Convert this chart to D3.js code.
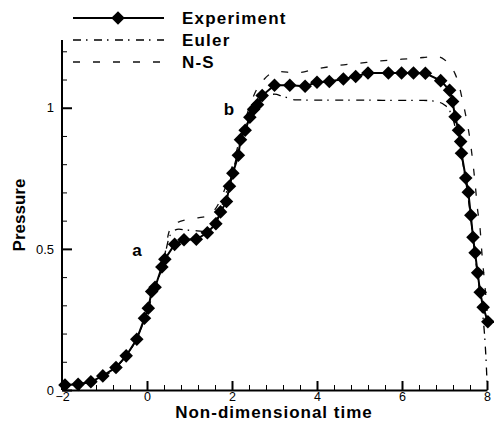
<!DOCTYPE html>
<html>
<head>
<meta charset="utf-8">
<script src="https://cdn.jsdelivr.net/npm/d3@7"></script>
<style>
  html, body { margin: 0; padding: 0; background: #fff; }
  svg { display: block; }
  text { font-family: "Liberation Sans", Arial, sans-serif; fill: #000; }
</style>
</head>
<body>
<svg id="chart" width="494" height="425"></svg>
<script>
// Measured pressure history
const expTime = [-1.93, -1.62, -1.32, -1.04, -0.73, -0.49, -0.24, -0.06, 0.03, 0.11, 0.19, 0.35, 0.42, 0.65, 0.87, 1.16, 1.42, 1.62, 1.73, 1.87, 1.94, 2.02, 2.15, 2.20, 2.31, 2.42, 2.51, 2.60, 2.71, 3.00, 3.36, 3.72, 4.00, 4.29, 4.62, 4.91, 5.20, 5.68, 5.99, 6.27, 6.55, 6.91, 7.12, 7.19, 7.25, 7.33, 7.38, 7.40, 7.50, 7.56, 7.62, 7.67, 7.72, 7.78, 7.84, 7.91, 8.02];
const expPressure = [0.018, 0.020, 0.029, 0.050, 0.080, 0.121, 0.180, 0.254, 0.290, 0.349, 0.364, 0.436, 0.463, 0.516, 0.532, 0.534, 0.557, 0.589, 0.631, 0.668, 0.722, 0.768, 0.832, 0.887, 0.920, 0.966, 0.995, 1.011, 1.043, 1.080, 1.080, 1.076, 1.090, 1.093, 1.102, 1.111, 1.123, 1.123, 1.123, 1.123, 1.122, 1.096, 1.062, 1.022, 0.968, 0.920, 0.880, 0.839, 0.751, 0.701, 0.619, 0.541, 0.486, 0.415, 0.346, 0.293, 0.242];

// Inviscid (Euler) computation
const eulerTime = [-2.0, -1.6, -1.2, -0.8, -0.5, -0.25, 0.0, 0.2, 0.4, 0.5, 0.6, 0.75, 0.9, 1.1, 1.3, 1.5, 1.65, 1.8, 1.95, 2.1, 2.25, 2.4, 2.55, 2.7, 2.85, 3.0, 3.2, 3.5, 4.0, 5.0, 6.0, 6.5, 6.8, 7.0, 7.13, 7.2, 7.3, 7.4, 7.5, 7.6, 7.7, 7.8, 7.88, 7.94, 7.98, 8.0];
const eulerPressure = [0.012, 0.02, 0.035, 0.07, 0.12, 0.18, 0.275, 0.37, 0.46, 0.53, 0.56, 0.57, 0.567, 0.565, 0.562, 0.575, 0.61, 0.67, 0.74, 0.82, 0.9, 0.96, 1.0, 1.03, 1.045, 1.048, 1.04, 1.028, 1.027, 1.027, 1.026, 1.026, 1.022, 1.01, 0.987, 0.96, 0.9, 0.83, 0.74, 0.63, 0.5, 0.38, 0.29, 0.2, 0.1, 0.03];

// Viscous (Navier-Stokes) computation
const nsTime = [-2.0, -1.6, -1.2, -0.8, -0.5, -0.25, 0.0, 0.2, 0.4, 0.5, 0.6, 0.8, 1.0, 1.2, 1.4, 1.55, 1.7, 1.85, 2.0, 2.15, 2.3, 2.45, 2.6, 2.75, 2.9, 3.1, 3.5, 4.0, 4.5, 5.0, 5.5, 6.0, 6.5, 6.8, 7.0, 7.15, 7.25, 7.33, 7.43, 7.52, 7.60, 7.66, 7.72, 7.77, 7.84, 7.88, 7.93, 7.98, 8.0];
const nsPressure = [0.012, 0.02, 0.035, 0.07, 0.12, 0.18, 0.275, 0.37, 0.46, 0.55, 0.585, 0.598, 0.605, 0.61, 0.615, 0.63, 0.665, 0.72, 0.79, 0.87, 0.95, 1.02, 1.07, 1.1, 1.12, 1.128, 1.124, 1.138, 1.15, 1.158, 1.166, 1.172, 1.178, 1.182, 1.17, 1.148, 1.12, 1.087, 1.022, 0.957, 0.887, 0.816, 0.733, 0.65, 0.567, 0.485, 0.402, 0.319, 0.28];

const xMajorTicks = [-2, 0, 2, 4, 6, 8];
const yMajorTicks = [0, 0.5, 1];
const seriesNames = ["Experiment", "Euler", "N-S"];
const pointLabels = ["a", "b"];

const svg = d3.select("#chart");
const x = d3.scaleLinear().domain([-2, 8]).range([62, 487]);
const y = d3.scaleLinear().domain([0, 1.24]).range([390, 40]);

const zip = (xs, ys) => xs.map((v, i) => [v, ys[i]]);
const expData = zip(expTime, expPressure);
const eulerData = zip(eulerTime, eulerPressure);
const nsData = zip(nsTime, nsPressure);

const eulerDash = "8,5,1.5,6.5";
const nsDash = "7,13";

// Axes: ticks point into the plot
const xMinor = d3.range(-2, 8.001, 0.4).filter(v => !xMajorTicks.some(t => Math.abs(t - v) < 1e-6));
const yMinor = d3.range(0, 1.2001, 0.1).filter(v => !yMajorTicks.some(t => Math.abs(t - v) < 1e-6));

const xAxis = svg.append("g").attr("transform", `translate(0,${y(0)})`)
  .call(d3.axisBottom(x).tickValues(xMajorTicks).tickSizeInner(-9).tickSizeOuter(0).tickPadding(2).tickFormat(d3.format("d")));
xAxis.select(".domain").attr("stroke-width", 2);
xAxis.selectAll(".tick line").attr("stroke-width", 2);
xAxis.selectAll(".tick text").attr("font-size", 12.5).attr("font-family", "Liberation Sans, Arial, sans-serif");
const xMinorAxis = svg.append("g").attr("transform", `translate(0,${y(0)})`)
  .call(d3.axisBottom(x).tickValues(xMinor).tickSize(-5).tickFormat(""));
xMinorAxis.select(".domain").remove();

const yAxis = svg.append("g").attr("transform", `translate(${x(-2)},0)`)
  .call(d3.axisLeft(y).tickValues(yMajorTicks).tickSizeInner(-10).tickSizeOuter(0).tickPadding(8).tickFormat(d => d));
yAxis.select(".domain").attr("stroke-width", 2).attr("d", `M0,${y(1.24)}V${y(0)}`);
yAxis.selectAll(".tick line").attr("stroke-width", 2);
yAxis.selectAll(".tick text").attr("font-size", 13).attr("font-family", "Liberation Sans, Arial, sans-serif");
const yMinorAxis = svg.append("g").attr("transform", `translate(${x(-2)},0)`)
  .call(d3.axisLeft(y).tickValues(yMinor).tickSize(-5).tickFormat(""));
yMinorAxis.select(".domain").remove();

// Axis titles
svg.append("text").attr("x", 274).attr("y", 418).attr("text-anchor", "middle")
  .attr("font-size", 17).attr("font-weight", "bold").attr("letter-spacing", 1)
  .text("Non-dimensional time");
svg.append("text").attr("transform", "translate(25,215) rotate(-90)").attr("text-anchor", "middle")
  .attr("font-size", 17).attr("font-weight", "bold")
  .text("Pressure");

// Curves
const smooth = d3.line().x(d => x(d[0])).y(d => y(d[1])).curve(d3.curveMonotoneX);
const straight = d3.line().x(d => x(d[0])).y(d => y(d[1]));

svg.append("path").datum(nsData).attr("d", smooth).attr("fill", "none")
  .attr("stroke", "#111").attr("stroke-width", 1.3).attr("stroke-dasharray", nsDash);
svg.append("path").datum(eulerData).attr("d", smooth).attr("fill", "none")
  .attr("stroke", "#000").attr("stroke-width", 1.3).attr("stroke-dasharray", eulerDash);
svg.append("path").datum(expData).attr("d", straight).attr("fill", "none")
  .attr("stroke", "#000").attr("stroke-width", 2);

const diamond = d3.symbol().type(d3.symbolSquare).size(92);
svg.append("g").selectAll("path").data(expData).join("path")
  .attr("d", diamond)
  .attr("transform", d => `translate(${x(d[0])},${y(d[1])}) rotate(45)`)
  .attr("fill", "#000");

// Point labels
svg.append("text").attr("x", 137).attr("y", 256).attr("text-anchor", "middle")
  .attr("font-size", 17).attr("font-weight", "bold").text(pointLabels[0]);
svg.append("text").attr("x", 229).attr("y", 115).attr("text-anchor", "middle")
  .attr("font-size", 17).attr("font-weight", "bold").text(pointLabels[1]);

// Legend
const legend = svg.append("g");
const rows = [18, 40, 62];
const styles = [
  { dash: null, width: 2, color: "#000" },
  { dash: eulerDash, width: 1.3, color: "#000" },
  { dash: nsDash, width: 1.3, color: "#111" }
];
seriesNames.forEach((name, i) => {
  legend.append("line").attr("x1", 73).attr("x2", 164).attr("y1", rows[i]).attr("y2", rows[i])
    .attr("stroke", styles[i].color).attr("stroke-width", styles[i].width)
    .attr("stroke-dasharray", styles[i].dash);
  legend.append("text").attr("x", 182).attr("y", rows[i] + 6)
    .attr("font-size", 17).attr("font-weight", "bold").attr("letter-spacing", 1.2).text(name);
});
legend.append("path").attr("d", diamond).attr("transform", `translate(118,${rows[0]}) rotate(45)`).attr("fill", "#000");
</script>
</body>
</html>
